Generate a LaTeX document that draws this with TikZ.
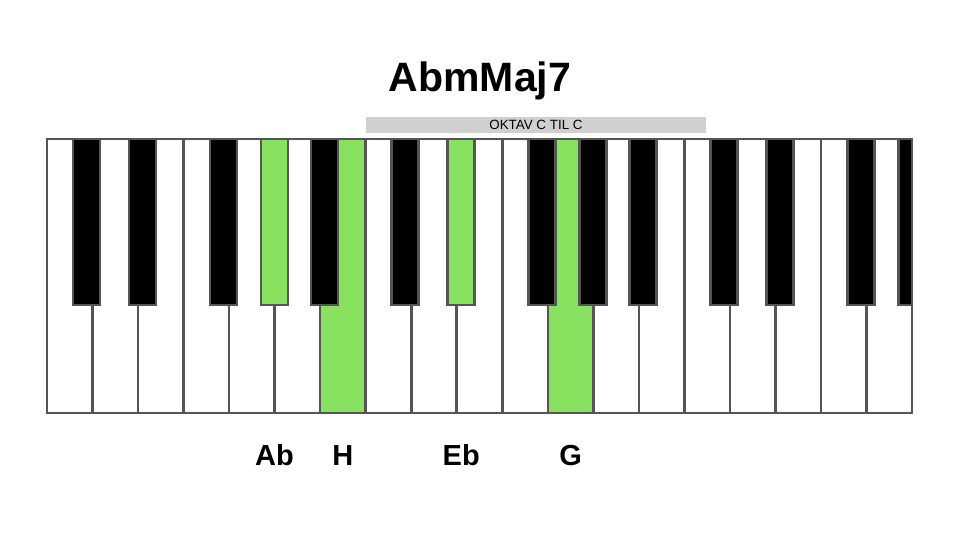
\documentclass[tikz,border=0pt]{standalone}
\usepackage{fontspec}
\setmainfont{Liberation Sans}
\definecolor{keyline}{RGB}{85,85,85}
\definecolor{hit}{RGB}{136,226,96}
\definecolor{barfill}{RGB}{208,208,208}

\begin{document}
\begin{tikzpicture}[x=0.5pt,y=-0.5pt,
    wkey/.style={draw=keyline,line width=1.3pt,minimum width=22.76pt,
      minimum height=137pt,inner sep=0pt,outer sep=0pt},
    bkey/.style={draw=keyline,line width=1.3pt,minimum width=13.5pt,
      minimum height=83pt,inner sep=0pt,outer sep=0pt},
    notename/.style={font=\bfseries\fontsize{14.5}{16}\selectfont,anchor=base},
    octbar/.style={fill=barfill,minimum width=170pt,minimum height=8pt,
      inner sep=0pt,font=\fontsize{6.7}{8}\selectfont}]
  \useasboundingbox (0,0) rectangle (960,540);

  \node[font=\bfseries\fontsize{20.5}{24}\selectfont,anchor=base] (chord) at (480,92) {AbmMaj7};
  \node[octbar] (octave) at (536,125) {OKTAV C TIL C};

  \foreach \x in {0,...,18} {
    \ifnum\x=6 \def\keycol{hit}\else\ifnum\x=11 \def\keycol{hit}\else\def\keycol{white}\fi\fi
    \node[wkey,fill=\keycol] (white\x) at ({47+45.53*(\x+.5)},276) {};
  }

  \begin{scope}
    \clip (white0.north west) rectangle (white18.south east);
    \foreach \o in {0,1,2} {
      \foreach \b/\k in {26/1,82/2,163/3,214/4,264/5} {
        \pgfmathsetmacro\bx{47+318.7*\o+\b}
        \ifdim\bx pt<912pt
          \def\keycol{black}
          \ifnum\o\k=4 \def\keycol{hit}\fi
          \ifnum\o\k=12 \def\keycol{hit}\fi
          \node[bkey,fill=\keycol] (black\o\k) at ({\bx+13.5},222) {};
        \fi
      }
    }
  \end{scope}
  \draw[keyline,line width=1.3pt] (white0.north west) rectangle (white18.south east);

  \coordinate (base) at (0,465);
  \node[notename] (ab) at (black04 |- base) {Ab};
  \node[notename] (h) at (white6 |- base) {H};
  \node[notename] (eb) at (black12 |- base) {Eb};
  \node[notename] (g) at (white11 |- base) {G};
\end{tikzpicture}
\end{document}
